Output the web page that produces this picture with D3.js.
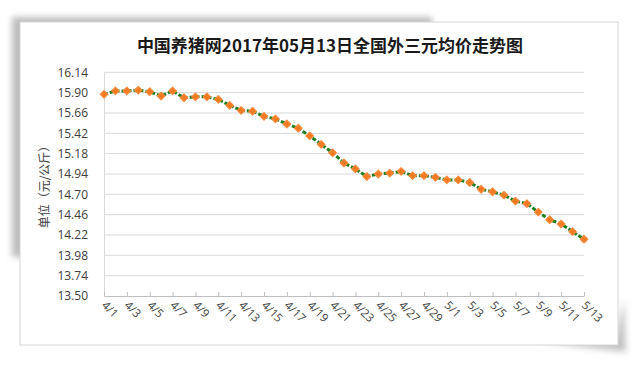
<!DOCTYPE html>
<html>
<head>
<meta charset="utf-8">
<title>全国外三元均价走势图</title>
<script src="https://cdn.jsdelivr.net/npm/d3@7/dist/d3.min.js"></script>
<style>
  body { margin: 0; background: #fff; }
  svg { display: block; font-family: "Noto Sans CJK SC", "Noto Sans", sans-serif; }
</style>
</head>
<body>
<svg id="chart" width="640" height="365"></svg>
<script>
// dates 4/1 .. 5/13 (daily)
var dates = [];
for (var d = 1; d <= 30; d++) dates.push("4/" + d);
for (var d = 1; d <= 13; d++) dates.push("5/" + d);

// average price, yuan/kg
var prices = [
  15.88, 15.92, 15.92, 15.93, 15.91, 15.86, 15.92, 15.84, 15.85, 15.85,
  15.82, 15.75, 15.69, 15.68, 15.62, 15.59, 15.53, 15.48, 15.39, 15.29,
  15.19, 15.07, 15.00, 14.91, 14.94, 14.95, 14.97, 14.92, 14.92, 14.90,
  14.87, 14.87, 14.84, 14.76, 14.73, 14.69, 14.62, 14.59, 14.49, 14.40,
  14.35, 14.26, 14.17
];

var yTicks = [13.50, 13.74, 13.98, 14.22, 14.46, 14.70, 14.94, 15.18, 15.42, 15.66, 15.90, 16.14];

var title = "中国养猪网2017年05月13日全国外三元均价走势图";
var yTitle = "单位（元/公斤）";

var svg = d3.select("#chart");

// frame with a soft shadow
var defs = svg.append("defs");
var blur = defs.append("filter").attr("id", "blur").attr("x", "-10%").attr("y", "-10%")
  .attr("width", "120%").attr("height", "120%");
blur.append("feGaussianBlur").attr("stdDeviation", 3);

svg.append("rect").attr("x", 12).attr("y", 17).attr("width", 420).attr("height", 240)
  .attr("fill", "#bdbdbd").attr("filter", "url(#blur)");
svg.append("path")
  .attr("d", "M540,342 L615,338 L624,300 L626,352 Z")
  .attr("fill", "#c4c4c4").attr("filter", "url(#blur)");
svg.append("rect").attr("x", 20).attr("y", 22).attr("width", 598).attr("height", 323)
  .attr("fill", "#fff").attr("stroke", "#d6d6d6").attr("stroke-width", 1);

var mLeft = 104, mRight = 584, mTop = 72.3, mBottom = 296;

var x = d3.scalePoint().domain(dates).range([mLeft, mRight]);
var y = d3.scaleLinear().domain([13.50, 16.14]).range([mBottom, mTop]);

// gridlines
svg.append("g").selectAll("line").data(yTicks.slice(1)).enter().append("line")
  .attr("x1", mLeft).attr("x2", mRight)
  .attr("y1", function(d) { return y(d); }).attr("y2", function(d) { return y(d); })
  .attr("stroke", "#d9d9d9").attr("stroke-width", 1);

// y axis
var yAxis = svg.append("g").attr("transform", "translate(" + mLeft + ",0)")
  .call(d3.axisLeft(y).tickValues(yTicks).tickFormat(d3.format(".2f")).tickSize(0).tickPadding(16));
yAxis.select(".domain").attr("stroke", "#d9d9d9");
yAxis.selectAll("text").attr("fill", "#404040").style("font-size", "12px")
  .style("font-family", "'Open Sans', 'Noto Sans', sans-serif");

// x axis
var xLabels = dates.filter(function(d, i) { return i % 2 === 0; });
var xAxis = svg.append("g").attr("transform", "translate(0," + mBottom + ")")
  .call(d3.axisBottom(x).tickValues(xLabels).tickSize(-4).tickSizeOuter(0).tickFormat(""));
xAxis.select(".domain").attr("stroke", "#bfbfbf");
xAxis.selectAll(".tick line").attr("stroke", "#bfbfbf");

svg.append("g").selectAll("text").data(xLabels).enter().append("text")
  .attr("transform", function(d) { return "translate(" + (x(d) - 3) + "," + (mBottom + 10) + ") rotate(45)"; })
  .attr("fill", "#404040")
  .style("font-size", "11.5px")
  .style("font-family", "'Open Sans', 'Noto Sans', sans-serif")
  .text(function(d) { return d; });

// line
var line = d3.line()
  .x(function(d, i) { return x(dates[i]); })
  .y(function(d) { return y(d); });

svg.append("path").datum(prices)
  .attr("d", line)
  .attr("fill", "none")
  .attr("stroke", "#1f7f1f")
  .attr("stroke-width", 3)
  .attr("stroke-dasharray", "4,2");

// markers
svg.append("g").selectAll("path").data(prices).enter().append("path")
  .attr("transform", function(d, i) { return "translate(" + x(dates[i]) + "," + y(d) + ")"; })
  .attr("d", d3.symbol().type(d3.symbolDiamond2).size(36))
  .attr("fill", "#f47a22")
  .attr("stroke", "#f58a3c")
  .attr("stroke-width", 1.2)
  .attr("stroke-linejoin", "round");

// title
svg.append("text")
  .attr("x", 330).attr("y", 52)
  .attr("text-anchor", "middle")
  .attr("fill", "#1a1a1a")
  .style("font-size", "17px")
  .style("font-weight", "bold")
  .text(title);

// y title
svg.append("text")
  .attr("transform", "translate(49,184) rotate(-90)")
  .attr("text-anchor", "middle")
  .attr("fill", "#404040")
  .style("font-size", "12px")
  .text(yTitle);
</script>
</body>
</html>
